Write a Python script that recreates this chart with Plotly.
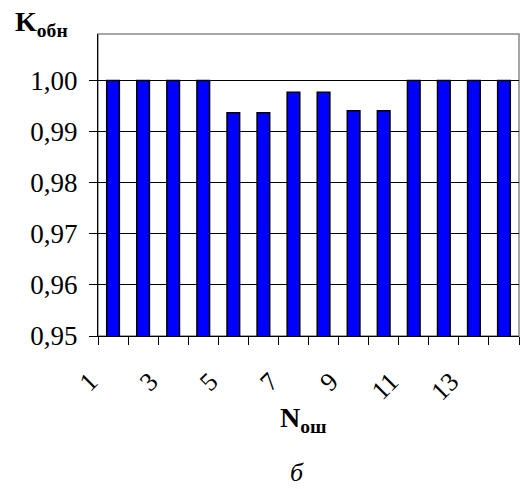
import plotly.graph_objects as go

# Error count (x) and detection coefficient (y)
n_errors = list(range(1, 15))
k_detect = [1.0, 1.0, 1.0, 1.0, 0.9937, 0.9937, 0.9977, 0.9977,
            0.9941, 0.9941, 1.0, 1.0, 1.0, 1.0]
x_tick_vals = [1, 3, 5, 7, 9, 11, 13]
x_tick_text = [str(v) for v in x_tick_vals]
y_tick_vals = [0.95, 0.96, 0.97, 0.98, 0.99, 1.00]

FONT = "Liberation Serif"

fig = go.Figure(
    go.Bar(
        x=n_errors,
        y=k_detect,
        width=0.42,
        marker=dict(color="#0000FF", line=dict(color="black", width=1.5)),
    )
)

fig.update_layout(
    width=521,
    height=489,
    margin=dict(l=98, r=2, t=34, b=153),
    paper_bgcolor="white",
    plot_bgcolor="white",
    separators=", ",
    showlegend=False,
    font=dict(family=FONT, size=27, color="black"),
    xaxis=dict(
        range=[0.5, 14.5],
        tickmode="array",
        tickvals=x_tick_vals,
        ticktext=x_tick_text,
        tickangle=-45,
        ticks="",
        showgrid=False,
        zeroline=False,
        showline=True,
        linecolor="black",
        linewidth=1,
        ticklabelstandoff=19,
        ticklabelshift=-23,
        tickfont=dict(family=FONT, size=26),
        minor=dict(
            tickmode="array",
            tickvals=[i + 0.5 for i in range(0, 15)],
            ticks="outside",
            ticklen=8,
            tickcolor="black",
            tickwidth=1,
            showgrid=False,
        ),
    ),
    yaxis=dict(
        range=[0.95, 1.0091],
        tickmode="array",
        tickvals=y_tick_vals,
        tickformat=".2f",
        ticks="outside",
        ticklen=8,
        tickcolor="black",
        showgrid=True,
        gridcolor="black",
        gridwidth=1,
        zeroline=False,
        showline=True,
        linecolor="black",
        linewidth=1,
        ticklabelstandoff=6,
        tickfont=dict(family=FONT, size=27),
    ),
    shapes=[
        dict(
            type="rect", xref="paper", yref="paper",
            x0=0, y0=0, x1=1, y1=1,
            line=dict(color="#888888", width=1.5),
            layer="below",
        )
    ],
    annotations=[
        dict(
            text="<b>K<sub>обн</sub></b>",
            xref="paper", yref="paper",
            x=-0.203, y=1.035,
            xanchor="left", yanchor="middle",
            showarrow=False,
            font=dict(family=FONT, size=28),
        ),
        dict(
            text="<b>N<sub>ош</sub></b>",
            xref="paper", yref="paper",
            x=0.487, y=-0.278,
            xanchor="center", yanchor="middle",
            showarrow=False,
            font=dict(family=FONT, size=28),
        ),
        dict(
            text="<i>б</i>",
            xref="paper", yref="paper",
            x=0.473, y=-0.452,
            xanchor="center", yanchor="middle",
            showarrow=False,
            font=dict(family=FONT, size=26),
        ),
    ],
)

fig.write_html("out.html")
